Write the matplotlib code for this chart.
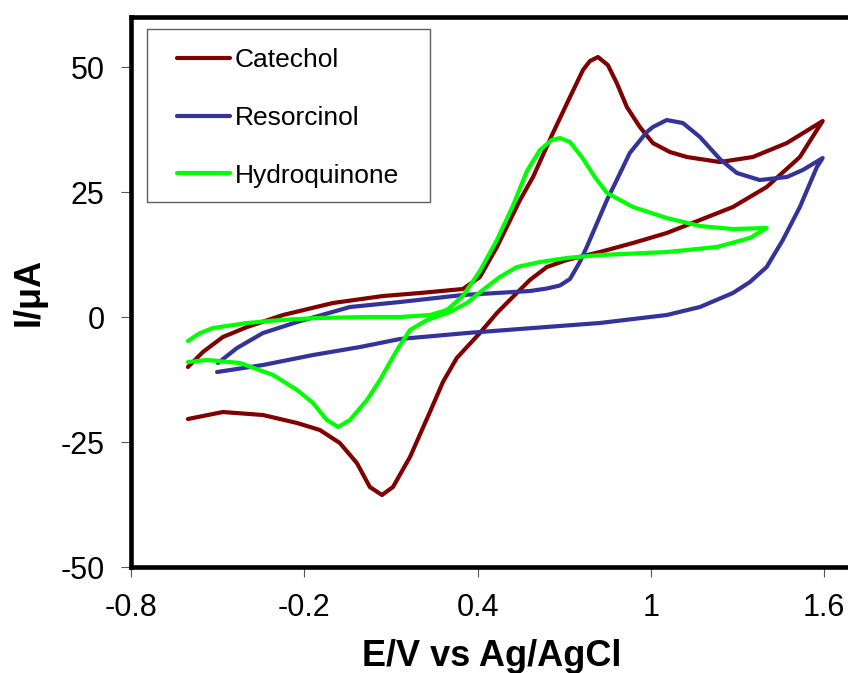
import numpy as np
import matplotlib
matplotlib.use('Agg')
import matplotlib.pyplot as plt
from matplotlib.patches import Rectangle

plt.rcParams['font.family'] = ['Liberation Sans', 'DejaVu Sans']
plt.rcParams['axes.unicode_minus'] = False

# Catechol : anodic sweep up to 1.6 V, then reverse sweep back
cat_E = [-0.603, -0.551, -0.482, -0.398, -0.274, -0.101, 0.072, 0.200, 0.349, 0.408, 0.467, 0.547,
         0.592, 0.661, 0.720, 0.765, 0.789, 0.817, 0.851, 0.882, 0.917, 0.962, 1.007, 1.066,
         1.125, 1.239, 1.353, 1.471, 1.595,
         1.575, 1.516, 1.401, 1.284, 1.170, 1.055, 0.938, 0.823, 0.709, 0.640, 0.581, 0.522,
         0.467, 0.408, 0.328, 0.280, 0.235, 0.166, 0.107, 0.069, 0.027, -0.018, -0.077, -0.146,
         -0.225, -0.343, -0.482, -0.603]
cat_I = [-10.0, -7.0, -4.0, -2.0, 0.4, 2.8, 4.2, 4.8, 5.6, 8.0, 14.0, 23.4,
         28.0, 36.8, 44.0, 49.4, 51.2, 52.0, 50.4, 46.8, 42.0, 38.0, 34.8, 33.0,
         32.0, 31.0, 32.0, 34.8, 39.2,
         37.4, 32.0, 26.0, 22.0, 19.4, 16.8, 14.8, 13.0, 11.4, 10.0, 7.4, 4.0,
         0.8, -3.2, -8.2, -13.0, -19.0, -28.0, -34.0, -35.6, -34.0, -29.2, -25.2, -22.6,
         -21.2, -19.6, -19.0, -20.4]

# Resorcinol
res_E = [-0.499, -0.433, -0.343, -0.225, -0.042, 0.131, 0.349, 0.581, 0.640, 0.685, 0.720, 0.754,
         0.778, 0.848, 0.882, 0.927, 0.986, 1.007, 1.055, 1.111, 1.170, 1.239, 1.298, 1.377,
         1.471, 1.526, 1.595,
         1.575, 1.516, 1.457, 1.401, 1.343, 1.284, 1.170, 1.055, 0.823, 0.591, 0.363, 0.131,
         -0.007, -0.170, -0.343, -0.502]
res_I = [-9.2, -6.2, -3.2, -1.0, 2.0, 3.0, 4.4, 5.2, 5.7, 6.3, 7.6, 11.0,
         14.0, 23.4, 27.4, 32.8, 37.0, 38.0, 39.4, 38.8, 36.0, 31.6, 28.8, 27.4,
         28.0, 29.4, 31.8,
         30.0, 22.0, 15.4, 10.0, 7.0, 4.8, 2.0, 0.4, -1.2, -2.2, -3.2, -4.4,
         -6.0, -7.6, -9.6, -11.0]

# Hydroquinone
hq_E = [-0.603, -0.561, -0.516, -0.398, -0.284, -0.156, 0.017, 0.131, 0.235, 0.294, 0.349, 0.408,
        0.467, 0.522, 0.571, 0.616, 0.657, 0.685, 0.720, 0.761, 0.806, 0.848, 0.938, 1.055,
        1.170, 1.284, 1.401,
        1.343, 1.228, 1.055, 0.823, 0.709, 0.616, 0.536, 0.477, 0.418, 0.363, 0.304, 0.225,
        0.166, 0.121, 0.062, 0.017, -0.042, -0.083, -0.122, -0.170, -0.225, -0.308, -0.423,
        -0.537, -0.603]
hq_I = [-4.8, -3.2, -2.2, -1.2, -0.6, -0.2, 0.0, 0.0, 0.4, 1.4, 4.2, 9.2,
        15.4, 22.2, 29.2, 33.4, 35.4, 35.8, 35.0, 32.0, 28.0, 24.8, 22.0, 19.8,
        18.2, 17.6, 17.8,
        15.8, 14.0, 13.0, 12.4, 11.8, 11.0, 10.0, 8.0, 5.4, 2.8, 1.0, -0.6,
        -2.6, -6.6, -12.6, -16.6, -20.6, -22.0, -20.6, -17.2, -14.6, -11.6, -9.2,
        -8.6, -9.0]

labels = ['Catechol', 'Resorcinol', 'Hydroquinone']
colors = ['#800000', '#333399', '#00FF00']
x_ticks = [-0.8, -0.2, 0.4, 1.0, 1.6]
x_ticklabels = ['-0.8', '-0.2', '0.4', '1', '1.6']
y_ticks = [-50, -25, 0, 25, 50]

fig = plt.figure(figsize=(8.48, 6.73), dpi=100)
# axes run past the right edge of the figure, as in the original
ax = fig.add_axes([0.1545, 0.1575, 0.8514, 0.8172])

for E, I, lab, c in zip([cat_E, res_E, hq_E], [cat_I, res_I, hq_I], labels, colors):
    ax.plot(E, I, color=c, lw=3.0, label=lab, solid_joinstyle='round', solid_capstyle='round')

ax.set_xlim(-0.8, 1.7)
ax.set_ylim(-50, 60)
ax.set_xticks(x_ticks)
ax.set_xticklabels(x_ticklabels)
ax.set_yticks(y_ticks)
ax.tick_params(axis='both', direction='out', length=7, width=0.8, color='#555555',
               labelsize=22, pad=12)

ax.spines['right'].set_visible(False)
for s in ['left', 'bottom', 'top']:
    ax.spines[s].set_linewidth(3.3)

ax.set_xlabel('E/V vs Ag/AgCl', fontsize=26, fontweight='bold', labelpad=11)
ax.set_ylabel('I/\u03bcA', fontsize=26, fontweight='bold', labelpad=10)

# legend box drawn by hand so the padding matches
ax.add_patch(Rectangle((0.0222, 0.6636), 0.3919, 0.3146, transform=ax.transAxes,
                       facecolor='white', edgecolor='#606060', lw=1.0, zorder=4))
leg = ax.legend(loc='upper left', bbox_to_anchor=(0.0637, 0.9436), frameon=False,
                fontsize=19, borderpad=0, labelspacing=1.28,
                handlelength=2.0, handletextpad=0.2, borderaxespad=0)
leg.set_zorder(5)

fig.savefig('out.png', dpi=100)
